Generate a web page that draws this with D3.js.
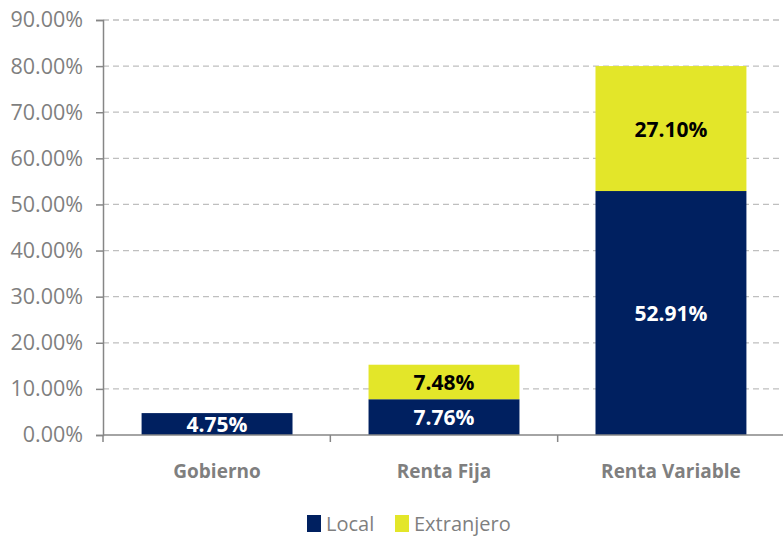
<!DOCTYPE html>
<html>
<head>
<meta charset="utf-8">
<script src="https://cdn.jsdelivr.net/npm/d3@7"></script>
<style>
  body { margin: 0; background: #fff; }
  svg text { font-family: "Open Sans", "Noto Sans", sans-serif; }
</style>
</head>
<body>
<div id="chart"></div>
<script>
// Data
var categories = ["Gobierno", "Renta Fija", "Renta Variable"];
var local = [4.75, 7.76, 52.91];
var extranjero = [0, 7.48, 27.10];
var seriesNames = ["Local", "Extranjero"];
var yTicks = [0, 10, 20, 30, 40, 50, 60, 70, 80, 90];

var width = 783, height = 538;
var margin = {top: 20, left: 103, right: -2, bottom: 103};
var innerW = width - margin.left - margin.right,
    innerH = height - margin.top - margin.bottom;

var colors = {Local: "#002060", Extranjero: "#e3e629"};

var svg = d3.select("#chart").append("svg")
  .attr("width", width)
  .attr("height", height);

var g = svg.append("g")
  .attr("transform", "translate(" + margin.left + "," + margin.top + ")");

var x = d3.scaleBand().domain(categories).range([0, innerW]).paddingInner(0.335).paddingOuter(0.17);
var y = d3.scaleLinear().domain([0, 90]).range([innerH, 0]);

// Gridlines
g.selectAll(".grid")
  .data(yTicks.filter(function(d) { return d > 0; }))
  .enter().append("line")
  .attr("x1", 0).attr("x2", innerW)
  .attr("y1", function(d) { return y(d); })
  .attr("y2", function(d) { return y(d); })
  .attr("stroke", "#bfbfbf")
  .attr("stroke-width", 1.3)
  .attr("stroke-dasharray", "6,4");

// Stacked data
var rows = categories.map(function(c, i) {
  return {cat: c, Local: local[i], Extranjero: extranjero[i]};
});
var stack = d3.stack().keys(seriesNames)(rows);

var layers = g.selectAll(".layer")
  .data(stack)
  .enter().append("g")
  .attr("fill", function(d) { return colors[d.key]; });

layers.selectAll("rect")
  .data(function(d) { return d.filter(function(s) { return s[1] - s[0] > 0; }); })
  .enter().append("rect")
  .attr("x", function(d) { return x(d.data.cat); })
  .attr("width", x.bandwidth())
  .attr("y", function(d) { return y(d[1]); })
  .attr("height", function(d) { return y(d[0]) - y(d[1]); });

// Segment labels
stack.forEach(function(layer) {
  g.selectAll(null)
    .data(layer.filter(function(s) { return s[1] - s[0] > 0; }))
    .enter().append("text")
    .attr("x", function(d) { return x(d.data.cat) + x.bandwidth() / 2; })
    .attr("y", function(d) {
      var mid = (y(d[0]) + y(d[1])) / 2;
      return Math.min(mid + 8, innerH + 1);
    })
    .attr("text-anchor", "middle")
    .attr("font-size", 21)
    .attr("font-weight", "bold")
    .attr("fill", layer.key == "Local" ? "#ffffff" : "#000000")
    .text(function(d) { return (d[1] - d[0]).toFixed(2) + "%"; });
});

// clip the label overflow below the axis
g.append("rect")
  .attr("x", 0).attr("y", innerH + 1)
  .attr("width", innerW).attr("height", 10)
  .attr("fill", "#fff");

// Y axis
var yAxis = g.append("g")
  .call(d3.axisLeft(y).tickValues(yTicks).tickSize(7).tickPadding(13)
    .tickFormat(function(d) { return d.toFixed(2) + "%"; }));
yAxis.select(".domain").attr("stroke", "#868686").attr("stroke-width", 1.5);
yAxis.selectAll(".tick line").attr("stroke", "#868686").attr("stroke-width", 1.5);
yAxis.selectAll("text").attr("font-size", 21.5).attr("fill", "#7f7f7f")
  .attr("font-family", "'Open Sans', sans-serif");

// X axis line and ticks between categories
g.append("line")
  .attr("x1", 0).attr("x2", innerW)
  .attr("y1", innerH).attr("y2", innerH)
  .attr("stroke", "#868686").attr("stroke-width", 1.5);

var step = innerW / categories.length;
g.selectAll(".xtick")
  .data(d3.range(categories.length + 1))
  .enter().append("line")
  .attr("x1", function(i) { return i * step; })
  .attr("x2", function(i) { return i * step; })
  .attr("y1", innerH).attr("y2", innerH + 7)
  .attr("stroke", "#868686").attr("stroke-width", 1.5);

g.selectAll(".xlabel")
  .data(categories)
  .enter().append("text")
  .attr("x", function(d) { return x(d) + x.bandwidth() / 2; })
  .attr("y", innerH + 43)
  .attr("text-anchor", "middle")
  .attr("font-size", 19)
  .attr("font-weight", "bold")
  .attr("fill", "#7f7f7f")
  .text(function(d) { return d; });

// Legend
var legend = svg.append("g").attr("transform", "translate(307,513)");
var legendX = [0, 88];
seriesNames.forEach(function(name, i) {
  legend.append("rect")
    .attr("x", legendX[i]).attr("y", 2)
    .attr("width", 14).attr("height", 17)
    .attr("fill", colors[name]);
  legend.append("text")
    .attr("x", legendX[i] + 19).attr("y", 18)
    .attr("font-size", 20)
    .attr("fill", "#7f7f7f")
    .text(name);
});
</script>
</body>
</html>
